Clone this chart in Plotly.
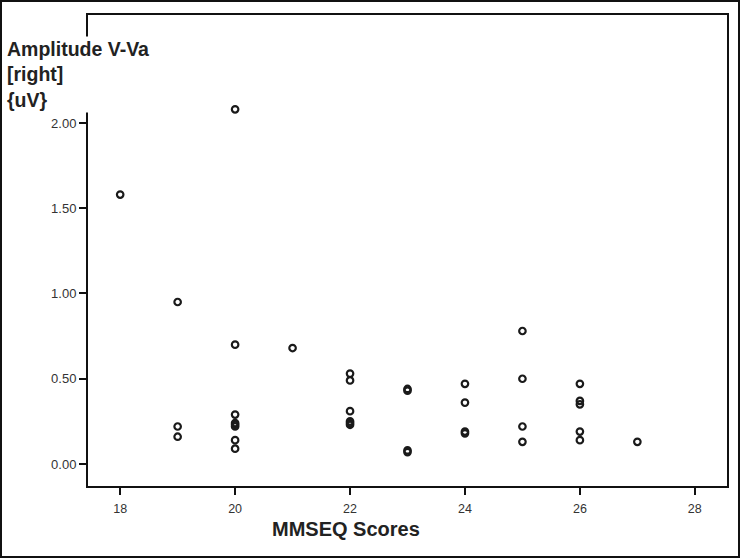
import plotly.graph_objects as go

# Data
mmseq_scores = [18,
                19, 19, 19,
                20, 20, 20, 20, 20, 20, 20, 20,
                21,
                22, 22, 22, 22, 22, 22,
                23, 23, 23, 23,
                24, 24, 24, 24,
                25, 25, 25, 25,
                26, 26, 26, 26, 26,
                27]
amplitude_right = [1.58,
                   0.95, 0.22, 0.16,
                   2.08, 0.70, 0.29, 0.24, 0.23, 0.22, 0.14, 0.09,
                   0.68,
                   0.53, 0.49, 0.31, 0.25, 0.24, 0.23,
                   0.44, 0.43, 0.08, 0.07,
                   0.47, 0.36, 0.19, 0.18,
                   0.78, 0.50, 0.22, 0.13,
                   0.47, 0.37, 0.35, 0.19, 0.14,
                   0.13]
x_ticks = [18, 20, 22, 24, 26, 28]
y_ticks = [0.0, 0.5, 1.0, 1.5, 2.0]
y_title = "Amplitude V-Va<br>[right]<br>{uV}"
x_title = "MMSEQ Scores"

FONT = "Liberation Sans, Arial, sans-serif"

fig = go.Figure()
fig.add_trace(go.Scatter(
    x=mmseq_scores, y=amplitude_right, mode="markers",
    marker=dict(symbol="circle-open", size=6.5, color="#1a1a1a",
                line=dict(width=2.2, color="#1a1a1a")),
    showlegend=False, hoverinfo="x+y"))

W, H = 743, 559
L, R, T, B = 88, 16, 15, 73
pw, ph = W - L - R, H - T - B

def px(xp):
    return (xp - L) / pw

def py(yp):
    return (H - B - yp) / ph

fig.update_layout(
    width=W, height=H,
    margin=dict(l=L, r=R, t=T, b=B, pad=0),
    paper_bgcolor="white", plot_bgcolor="white",
    font=dict(family=FONT, color="#333333", size=13),
    xaxis=dict(range=[17.44, 28.56], tickvals=x_ticks, ticks="outside",
               ticklen=7, tickwidth=2, tickcolor="#111111",
               ticklabelstandoff=3,
               showline=True, linecolor="#111111", linewidth=2, mirror=True,
               showgrid=False, zeroline=False,
               tickfont=dict(size=12.5, color="#333333")),
    yaxis=dict(range=[-0.129, 2.633], tickvals=y_ticks, tickformat=".2f",
               ticks="outside", ticklen=7, tickwidth=2, tickcolor="#111111",
               showline=True, linecolor="#111111", linewidth=2, mirror=True,
               showgrid=False, zeroline=False,
               tickfont=dict(size=13, color="#333333")),
    annotations=[
        dict(text=y_title, xref="paper", yref="paper",
             x=px(5), y=py(36), xanchor="left", yanchor="top",
             align="left", showarrow=False, bgcolor="white",
             font=dict(family=FONT, size=19.5, color="#222222", weight="bold")),
        dict(text=x_title, xref="paper", yref="paper",
             x=px(346), y=py(529), xanchor="center", yanchor="middle",
             showarrow=False,
             font=dict(family=FONT, size=20, color="#222222", weight="bold")),
    ],
    shapes=[
        dict(type="rect", xref="paper", yref="paper",
             x0=px(1), x1=px(739), y0=py(557), y1=py(1),
             line=dict(color="#111111", width=2), fillcolor="rgba(0,0,0,0)",
             layer="above"),
    ],
)

fig.write_html("out.html",
               config={"displayModeBar": False},
               post_script="document.body.style.margin='0';")
